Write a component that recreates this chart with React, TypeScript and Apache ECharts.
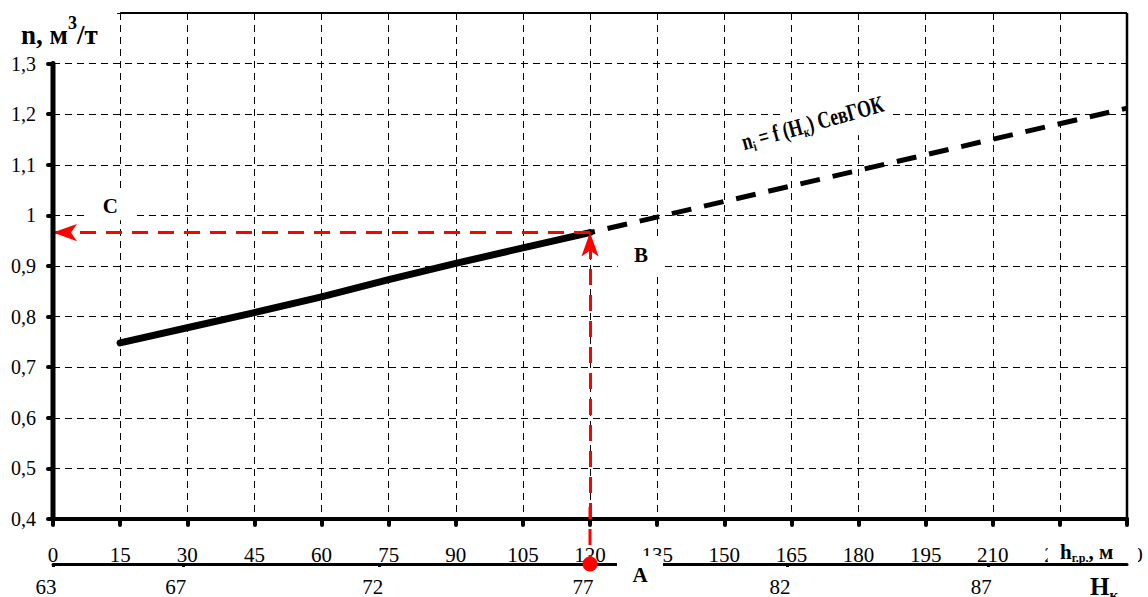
import { useEffect, useRef } from 'react';
import * as echarts from 'echarts';

const FONT = "'Liberation Serif', 'Times New Roman', serif";

// h г.р., m  (lower axis) and n, m3/t
const curveH = [15, 30, 45, 60, 75, 90, 105, 120];
const curveN = [0.748, 0.778, 0.808, 0.839, 0.873, 0.905, 0.936, 0.966];
// extrapolation (dashed)
const extH = [120, 240];
const extN = [0.966, 1.212];
// point A / B / C
const pointH = 120;
const pointN = 0.966;
// secondary axis Hк
const hkPos = [0, 29, 73, 120, 164, 209];
const hkLabels = ['63', '67', '72', '77', '82', '87'];

const X_MIN = 0;
const X_MAX = 240;
const X_STEP = 15;
const Y_MIN = 0.4;
const Y_MAX = 1.4;
const Y_STEP = 0.1;
const Y_TOP_LABEL = 1.3;

const HK_OFFSET = 45;

export default function App() {
  const ref = useRef<HTMLDivElement>(null);
  useEffect(() => {
    document.body.style.margin = '0';
    const chart = echarts.init(ref.current!, null, { renderer: 'svg' });
    const gridLine = { color: '#000', width: 1, type: [7, 5] as number[] };
    const option: any = {
      animation: false,
      backgroundColor: '#fff',
      grid: { left: 53, right: 21, top: 13, bottom: 72, containLabel: false },
      xAxis: [
        {
          type: 'value', min: X_MIN, max: X_MAX, interval: X_STEP, position: 'bottom',
          axisLine: { show: true, onZero: false, lineStyle: { color: '#000', width: 4 } },
          axisTick: { show: true, length: 6, lineStyle: { color: '#000', width: 4, cap: 'round' } },
          axisLabel: { color: '#000', fontFamily: FONT, fontSize: 21, margin: 25 },
          splitLine: { show: true, lineStyle: gridLine },
        },
        {
          type: 'value', min: X_MIN, max: X_MAX, position: 'bottom', offset: HK_OFFSET,
          axisLine: { show: true, onZero: false, lineStyle: { color: '#000', width: 3 } },
          axisTick: { show: true, length: 3, customValues: hkPos, lineStyle: { color: '#000', width: 3 } },
          axisLabel: {
            customValues: hkPos, color: '#000', fontFamily: FONT, fontSize: 21, margin: 12,
            padding: [0, 14, 0, 0],
            formatter: (v: number) => {
              const i = hkPos.indexOf(v);
              return i >= 0 ? hkLabels[i] : '';
            },
          },
          splitLine: { show: false },
        },
      ],
      yAxis: {
        type: 'value', min: Y_MIN, max: Y_MAX, interval: Y_STEP,
        axisLine: { show: false },
        axisTick: { show: true, length: 5, lineStyle: { color: '#000', width: 4, cap: 'round' } },
        axisLabel: {
          color: '#000', fontFamily: FONT, fontSize: 20, margin: 17,
          formatter: (v: number) => {
            const r = Math.round(v * 10) / 10;
            if (r > Y_TOP_LABEL + 0.05) return '';
            return String(r).replace('.', ',');
          },
        },
        splitLine: { show: true, lineStyle: gridLine },
      },
      series: [
        {
          type: 'line', xAxisIndex: 0, yAxisIndex: 0, symbol: 'none', silent: true,
          data: curveH.map((h, i) => [h, curveN[i]]),
          lineStyle: { color: '#000', width: 7, cap: 'round', join: 'round' },
          z: 4,
        },
        {
          type: 'line', xAxisIndex: 0, yAxisIndex: 0, symbol: 'none', silent: true,
          data: extH.map((h, i) => [h, extN[i]]),
          lineStyle: { color: '#000', width: 5, type: [20, 13], dashOffset: -18 },
          z: 3,
        },
        {
          type: 'line', xAxisIndex: 0, yAxisIndex: 0, symbol: 'none', silent: true,
          data: [],
          z: 5,
          markLine: {
            silent: true,
            symbol: ['none', 'arrow'],
            symbolSize: [13, 24],
            label: { show: false },
            lineStyle: { color: '#ff0000', width: 3, type: [16, 10] },
            emphasis: { disabled: true },
            data: [
              [{ coord: [pointH, Y_MIN] }, { coord: [pointH, pointN] }],
              [{ coord: [pointH, pointN] }, { coord: [X_MIN, pointN] }],
            ],
          },
        },
      ],
    };
    chart.setOption(option);

    const P = (x: number, y: number) => chart.convertToPixel({ gridIndex: 0 }, [x, y]) as number[];
    const p00 = P(X_MIN, Y_MIN);
    const pTop = P(X_MIN, Y_TOP_LABEL);
    const pTR = P(X_MAX, Y_MAX);
    const pBR = P(X_MAX, Y_MIN);
    const p15 = P(X_STEP, Y_MAX);
    const pA = P(pointH, Y_MIN);
    const hkY = p00[1] + HK_OFFSET;
    const pC = P(12.8, 1.019);
    const pB = P(131.4, 0.921);
    const pAnn = P(170, 1.175);
    const p225 = P(225, Y_MIN);

    const bold = { fontFamily: FONT, fontWeight: 'bold', color: '#000' };
    const graphic: any[] = [
      // cover area left of top frame
      { type: 'rect', z: 5, silent: true, shape: { x: p00[0] - 12, y: 0, width: p15[0] - p00[0] + 9, height: pTop[1] - 5 }, style: { fill: '#fff' } },
      // left axis (0.4 .. 1.3)
      { type: 'line', z: 10, silent: true, shape: { x1: p00[0], y1: p00[1], x2: pTop[0], y2: pTop[1] }, style: { stroke: '#000', lineWidth: 5, lineCap: 'round' } },
      // top frame
      { type: 'line', z: 10, silent: true, shape: { x1: p15[0], y1: pTR[1], x2: pTR[0], y2: pTR[1] }, style: { stroke: '#000', lineWidth: 2 } },
      // right frame
      { type: 'line', z: 10, silent: true, shape: { x1: pTR[0], y1: pTR[1], x2: pBR[0], y2: pBR[1] }, style: { stroke: '#000', lineWidth: 2.5 } },
      // white box of A on Hk axis
      { type: 'rect', z: 12, silent: true, shape: { x: pA[0] + 27, y: hkY - 8, width: 46, height: 40 }, style: { fill: '#fff' } },
      { type: 'text', z: 13, silent: true, x: pA[0] + 50, y: hkY + 11, style: { text: 'A', font: `bold 21px ${FONT}`, fill: '#000', align: 'center', verticalAlign: 'middle' } },
      // red extension to Hk axis
      { type: 'line', z: 14, silent: true, shape: { x1: pA[0], y1: pA[1] - 12, x2: pA[0], y2: hkY }, style: { stroke: '#ff0000', lineWidth: 3, lineDash: [16, 10], lineDashOffset: 4 } },
      { type: 'circle', z: 15, silent: true, shape: { cx: pA[0], cy: hkY, r: 7.5 }, style: { fill: '#ff0000' } },
      // C, B labels
      { type: 'text', z: 13, silent: true, x: pC[0], y: pC[1], style: { text: 'C', font: `bold 21px ${FONT}`, fill: '#000', align: 'center', verticalAlign: 'middle', backgroundColor: '#fff', padding: [2, 16, 6, 16] } },
      { type: 'text', z: 13, silent: true, x: pB[0], y: pB[1], style: { text: 'B', font: `bold 21px ${FONT}`, fill: '#000', align: 'center', verticalAlign: 'middle', backgroundColor: '#fff', padding: [6, 16, 8, 16] } },
      // title
      {
        type: 'text', z: 13, silent: true, x: 21, y: 31,
        style: {
          text: '{b|n, м}{s|3}{b|/т}', align: 'left', verticalAlign: 'middle',
          rich: {
            b: { ...bold, fontSize: 27, lineHeight: 34, verticalAlign: 'bottom' },
            s: { ...bold, fontSize: 18, lineHeight: 34, verticalAlign: 'top' },
          },
        },
      },
      // annotation
      {
        type: 'text', z: 13, silent: true, x: pAnn[0], y: pAnn[1], rotation: (15.5 * Math.PI) / 180,
        scaleX: 0.74,
        style: {
          text: '{a|n}{s|i}{a| = f (H}{s|к}{a|) СевГОК}', align: 'center', verticalAlign: 'middle',
          backgroundColor: '#fff', padding: [2, 4, 10, 4],
          rich: {
            a: { ...bold, fontSize: 24, lineHeight: 28, verticalAlign: 'middle' },
            s: { ...bold, fontSize: 14, lineHeight: 28, verticalAlign: 'bottom' },
          },
        },
      },
      // h г.р., м label box
      { type: 'rect', z: 12, silent: true, shape: { x: p225[0] - 12, y: pBR[1] + 20, width: pBR[0] - p225[0] + 23, height: 23 }, style: { fill: '#fff' } },
      {
        type: 'text', z: 13, silent: true, x: pBR[0] - 67, y: pBR[1] + 33,
        style: {
          text: '{b|h}{s|г.р.}{b|, м}', align: 'left', verticalAlign: 'middle',
          rich: {
            b: { ...bold, fontSize: 21, lineHeight: 24, verticalAlign: 'middle' },
            s: { ...bold, fontSize: 12, lineHeight: 24, verticalAlign: 'bottom' },
          },
        },
      },
      // Hк label
      {
        type: 'text', z: 13, silent: true, x: pBR[0] - 37, y: hkY + 10,
        style: {
          text: '{b|H}{s|к}', align: 'left', verticalAlign: 'top',
          rich: {
            b: { ...bold, fontSize: 25, lineHeight: 28, verticalAlign: 'top' },
            s: { ...bold, fontSize: 15, lineHeight: 28, verticalAlign: 'bottom' },
          },
        },
      },
    ];
    chart.setOption({ graphic });
    return () => chart.dispose();
  }, []);
  return <div ref={ref} style={{ width: 1148, height: 597 }} />;
}
